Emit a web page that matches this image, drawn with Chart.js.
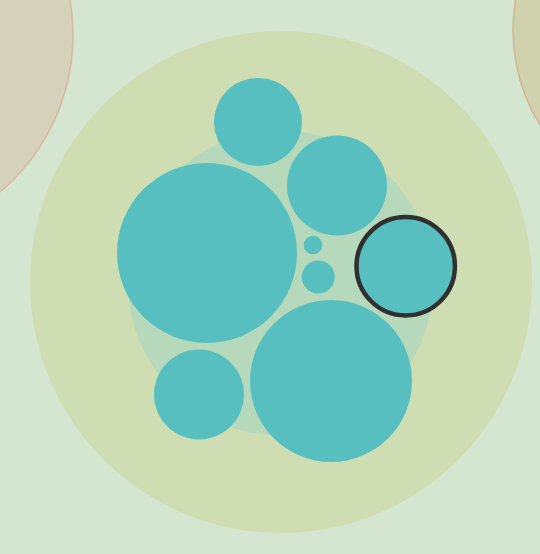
<!DOCTYPE html>
<html>
<head>
<meta charset="utf-8">
<script src="https://cdn.jsdelivr.net/npm/chart.js"></script>
<style>
  html, body { margin: 0; padding: 0; background: #d4e6d0; }
  #wrap { width: 540px; height: 554px; position: relative; }
</style>
</head>
<body>
<div id="wrap"><canvas id="packChart"></canvas></div>
<script>
// Circle pack nodes, listed back to front (layout units)
const nodeNames = ["groupA", "groupC", "root", "cluster", "leaf1", "leaf2", "leaf3", "leaf4", "leaf5", "leaf6", "leaf7", "leaf8"];
const nodeX = [-132, 694, 281, 280.5, 258, 337, 207, 313, 318.3, 405.7, 199, 331];
const nodeY = [35, 30, 282, 283, 122, 185.5, 253, 245, 277, 266.2, 394.5, 381];
const nodeR = [205, 181, 251, 152.5, 44, 50, 90, 9.3, 16.5, 49.2, 45, 81];
const focusNode = "leaf6";

const fillColors = ["#d6d1bb", "#d0d1ad", "#cfddb3", "#b6d8bb", "#58bfc1", "#58bfc1", "#58bfc1", "#58bfc1", "#58bfc1", "#58bfc1", "#58bfc1", "#58bfc1"];
const edgeColors = ["#d8b7a3", "#d4b68e"];

const borderColors = nodeNames.map(function (name, i) {
  if (name === focusNode) return "#303030";
  return edgeColors[i] || "rgba(0,0,0,0)";
});
const borderWidths = nodeNames.map(function (name, i) {
  if (name === focusNode) return 4.5;
  return edgeColors[i] ? 1.5 : 0;
});

const el = document.getElementById("packChart");
const chart = new Chart(el.getContext("2d"), {
  type: "bubble",
  data: {
    datasets: [
      {
        label: "pack",
        data: nodeNames.map(function (name, i) {
          return { x: nodeX[i], y: nodeY[i], r: 1 };
        }),
        backgroundColor: fillColors,
        borderColor: borderColors,
        borderWidth: borderWidths,
        hoverBorderWidth: borderWidths,
        clip: false,
      },
    ],
  },
  options: {
    responsive: true,
    maintainAspectRatio: false,
    animation: false,
    // no auto padding, otherwise the big bubbles shrink the chart area
    layout: { padding: 0, autoPadding: false },
    plugins: {
      legend: { display: false },
      tooltip: { enabled: false },
    },
    scales: {
      x: { type: "linear", min: 0, max: 540, display: false },
      y: { type: "linear", min: 0, max: 554, reverse: true, display: false },
    },
  },
});

// turn layout radii into pixel radii through the x scale
const sx = chart.scales.x;
chart.data.datasets[0].data.forEach(function (pt, i) {
  pt.r = Math.abs(sx.getPixelForValue(nodeR[i]) - sx.getPixelForValue(0));
});
chart.update();
</script>
</body>
</html>
